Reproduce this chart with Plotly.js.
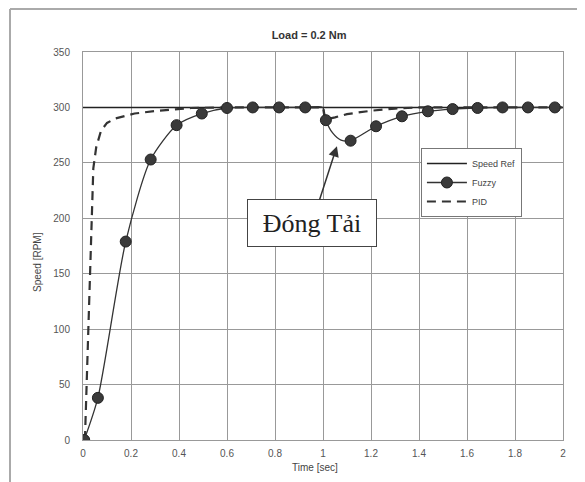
<!DOCTYPE html>
<html>
<head>
<meta charset="utf-8">
<script src="https://cdn.plot.ly/plotly-3.0.1.min.js"></script>
<style>html,body{margin:0;padding:0;background:#fff;}#chart{width:585px;height:482px;}</style>
</head>
<body>
<div id="chart"></div>
<script>
// ---- data ----
const refT = [0, 2];
const refV = [300, 300];

const fuzzyT = [0.005, 0.062, 0.178, 0.282, 0.39, 0.495, 0.6, 0.707, 0.817, 0.926, 1.012, 1.115, 1.221, 1.329, 1.437, 1.54, 1.644, 1.748, 1.854, 1.966];
const fuzzyV = [0, 38, 179, 253, 284, 294.5, 299.5, 300, 300, 300, 288.5, 270, 283, 292, 296.5, 298.5, 299.5, 300, 300, 300];

// traced curve of the fuzzy response (includes the shape between markers)
const fuzzyCurveT = [0.005, 0.062, 0.178, 0.282, 0.39, 0.495, 0.6, 0.707, 0.817, 0.926, 0.999, 1.012, 1.04, 1.075, 1.115, 1.221, 1.329, 1.437, 1.54, 1.644, 1.748, 1.854, 1.966];
const fuzzyCurveV = [0, 38, 179, 253, 284, 294.5, 299.5, 300, 300, 300, 300, 288.5, 277, 270.5, 270, 283, 292, 296.5, 298.5, 299.5, 300, 300, 300];

const pidT = [0.008, 0.015, 0.02, 0.027, 0.035, 0.043, 0.055, 0.075, 0.1, 0.135, 0.215, 0.31, 0.45, 0.6, 1.0, 1.008, 1.05, 1.1, 1.2, 1.3, 1.4, 2.0];
const pidV = [0, 50, 100, 150, 205, 245, 264, 279, 286, 290, 294.5, 297, 299.5, 300, 300, 289, 291, 294, 297, 299, 300, 300];

const xTicks = [0, 0.2, 0.4, 0.6, 0.8, 1, 1.2, 1.4, 1.6, 1.8, 2];
const yTicks = [0, 50, 100, 150, 200, 250, 300, 350];

const traces = [
  {x: refT, y: refV, mode: 'lines', name: 'Speed Ref',
   line: {color: '#222', width: 1.6}},
  {x: [null], y: [null], mode: 'lines+markers', name: 'Fuzzy',
   line: {color: '#333', width: 1.3},
   marker: {color: '#3a3a3a', size: 11, line: {color: '#222', width: 1}}},
  {x: pidT, y: pidV, mode: 'lines', name: 'PID',
   line: {color: '#333', width: 2.2, dash: '9px,6px'}},
  {x: fuzzyCurveT, y: fuzzyCurveV, mode: 'lines', showlegend: false,
   line: {color: '#333', width: 1.3, shape: 'spline', smoothing: 0.7}},
  {x: fuzzyT, y: fuzzyV, mode: 'markers', showlegend: false,
   marker: {color: '#3a3a3a', size: 11, line: {color: '#222', width: 1}}}
];

const layout = {
  width: 585, height: 482,
  margin: {l: 83, r: 22, t: 52, b: 42},
  paper_bgcolor: '#ffffff', plot_bgcolor: '#ffffff',
  font: {family: 'Liberation Sans, Arial, sans-serif', color: '#444', size: 10},
  title: {text: 'Load = 0.2 Nm', font: {size: 11, color: '#333', weight: 'bold'},
          x: 0.471, xref: 'paper', y: 1 - 35/482, yanchor: 'middle'},
  showlegend: true,
  legend: {x: 0.704, y: 0.7526, xanchor: 'left', yanchor: 'top',
           bgcolor: '#fff', bordercolor: '#777', borderwidth: 1,
           font: {size: 9, color: '#444'}, itemwidth: 40, tracegroupgap: 0},
  xaxis: {range: [0, 2], tickvals: xTicks, ticktext: xTicks.map(String),
          showgrid: true, gridcolor: '#999', gridwidth: 1,
          showline: true, linecolor: '#999', linewidth: 1, mirror: true,
          zeroline: false, ticks: '', ticklabelstandoff: 4,
          tickfont: {size: 10, color: '#555'}},
  yaxis: {range: [0, 350], tickvals: yTicks, ticktext: yTicks.map(String),
          showgrid: true, gridcolor: '#999', gridwidth: 1,
          showline: true, linecolor: '#999', linewidth: 1, mirror: true,
          zeroline: false, ticks: '', ticklabelstandoff: 10,
          tickfont: {size: 10, color: '#555'}},
  shapes: [
    {type: 'line', xref: 'paper', yref: 'paper', x0: (10-83)/480, x1: (577-83)/480,
     y0: (440-9)/388, y1: (440-9)/388, line: {color: '#aaa', width: 2}},
    {type: 'line', xref: 'paper', yref: 'paper', x0: (10-83)/480, x1: (10-83)/480,
     y0: (440-9)/388, y1: (440-482)/388, line: {color: '#aaa', width: 2}}
  ],
  annotations: [
    {xref: 'paper', yref: 'paper', x: (37-83)/480, y: (440-262)/388, text: 'Speed [RPM]',
     xanchor: 'center', yanchor: 'middle',
     textangle: -90, showarrow: false, font: {size: 10, color: '#444'}},
    {xref: 'paper', yref: 'paper', x: (315-83)/480, y: (440-467)/388, text: 'Time [sec]',
     xanchor: 'center', yanchor: 'middle',
     showarrow: false, font: {size: 10, color: '#444'}},
    {x: 1.058, y: 265, xref: 'x', yref: 'y', text: 'Đóng Tải',
     showarrow: true, ax: -25, ay: 77, axref: 'pixel', ayref: 'pixel',
     arrowhead: 2, arrowsize: 1.4, arrowwidth: 1.5, arrowcolor: '#333',
     font: {family: 'Liberation Serif, Times New Roman, serif', size: 26, color: '#222'},
     bgcolor: '#fff', bordercolor: '#444', borderwidth: 1, borderpad: 4,
     width: 120, height: 38}
  ]
};

Plotly.newPlot('chart', traces, layout, {displayModeBar: false, staticPlot: true});
</script>
</body>
</html>
